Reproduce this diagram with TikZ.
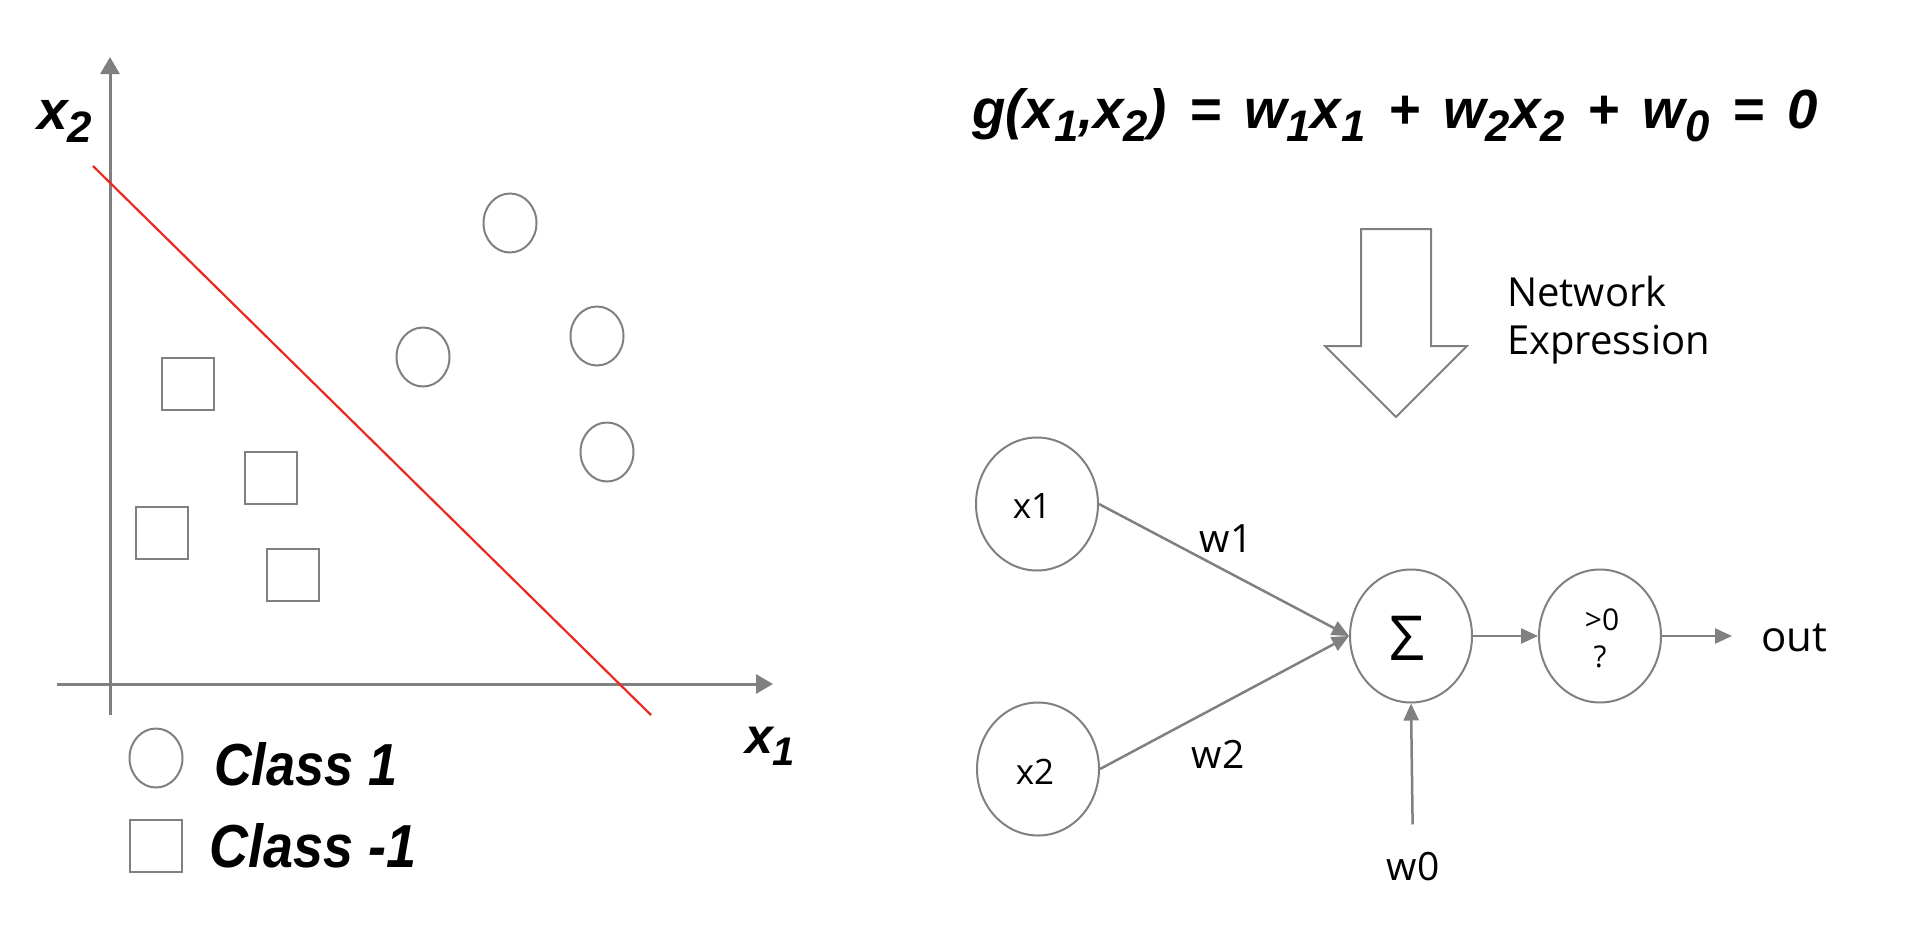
\documentclass[tikz,border=0pt]{standalone}
\usepackage{fontspec}
\setmainfont{Open Sans}
\newfontfamily\eqf{Liberation Sans}
\usetikzlibrary{arrows.meta,shapes.geometric}
\definecolor{lg}{RGB}{128,128,128}
\definecolor{rd}{RGB}{235,40,30}
\newcommand\lsub[1]{\raisebox{-0.25em}{\scalebox{0.8}{#1}}}
\newcommand\bix{\eqf\bfseries\itshape}
\newcommand\gap{\hspace{0.42em}}
\tikzset{
  axisline/.style={draw=lg,line width=3pt,-{Triangle[length=17pt,width=19pt]}},
  dotc/.style={ellipse,draw=lg,line width=2pt,minimum width=53pt,minimum height=59pt,inner sep=0pt},
  dots/.style={rectangle,draw=lg,line width=2pt,minimum size=52pt,inner sep=0pt},
  neuron/.style={ellipse,draw=lg,line width=2pt,minimum width=122pt,minimum height=133pt,inner sep=0pt},
  conn/.style={draw=lg,line width=2.5pt,-{Triangle[length=17pt,width=15pt]}},
  lbl/.style={inner sep=0pt,font=\fontsize{39}{40}\selectfont},
  boldlbl/.style={inner sep=0pt,anchor=base west},
}
\begin{document}
\begin{tikzpicture}[x=1pt,y=-1pt]
\path[use as bounding box] (0,0) rectangle (1918,924);
% ---- left panel ----
\draw[axisline] (110,715) -- (110,57);
\draw[axisline] (57,684) -- (773,684);
\draw[rd,line width=2.2pt] (93,166) -- (651,715);
\node[dotc] (c1) at (510,223) {};
\node[dotc] (c2) at (423,357) {};
\node[dotc] (c3) at (597,336) {};
\node[dotc] (c4) at (607,452) {};
\node[dots] (s1) at (188,384) {};
\node[dots] (s2) at (271,478) {};
\node[dots] (s3) at (162,533) {};
\node[dots] (s4) at (293,575) {};
\node[dotc] (lc) at (156,758) {};
\node[dots] (ls) at (156,846) {};
\node[boldlbl] (lx2) at (37,129) {\resizebox{55pt}{!}{\bix x\lsub{2}}};
\node[boldlbl] (lx1) at (745,753) {\resizebox{50pt}{!}{\bix x\lsub{1}}};
\node[boldlbl] (cl1) at (214,785) {\resizebox{183pt}{43pt}{\bix Class 1}};
\node[boldlbl] (cl2) at (209,867) {\resizebox{207pt}{44pt}{\bix Class -1}};
% ---- equation ----
\node[boldlbl] (eq) at (972,128) {\resizebox{845pt}{40pt}{\bix g(x\lsub{1},x\lsub{2})\gap=\gap w\lsub{1}x\lsub{1}\gap+\gap w\lsub{2}x\lsub{2}\gap+\gap w\lsub{0}\gap=\gap 0}};
% ---- block arrow ----
\draw[lg,line width=2pt,fill=white] (1361,229) -- (1431,229) -- (1431,346) -- (1467,346) -- (1396,417) -- (1325,346) -- (1361,346) -- cycle;
\node[anchor=west,align=left,inner sep=0pt,font=\fontsize{40}{48}\selectfont] (netexp) at (1507,320) {Network\\Expression};
% ---- network ----
\node[neuron] (x1) at (1037,504) {};
\node[inner sep=0pt,font=\fontsize{35}{35}\selectfont] (x1t) at (1032,506) {x1};
\node[neuron] (x2) at (1038,769) {};
\node[inner sep=0pt,font=\fontsize{35}{35}\selectfont] (x2t) at (1035,772) {x2};
\node[neuron] (sum) at (1411,636) {};
\node[inner sep=0pt,font=\fontsize{62}{62}\selectfont] (sumt) at (1407,638) {Σ};
\node[neuron] (thr) at (1600,636) {};
\node[inner sep=0pt,font=\fontsize{30}{30}\selectfont] (thr1) at (1602,620) {>0};
\node[inner sep=0pt,font=\fontsize{30}{30}\selectfont] (thr2) at (1600,657) {?};
\node[lbl,anchor=west,font=\fontsize{42}{42}\selectfont] (out) at (1761,638) {out};
\node[lbl] (w1) at (1226,539) {w1};
\node[lbl] (w2) at (1218,754) {w2};
\node[lbl] (w0) at (1413,867) {w0};
\draw[conn] (x1.east) -- (sum.west);
\draw[conn] (x2.east) -- (sum.west);
\draw[conn] (sum.east) -- (thr.west);
\draw[conn,shorten >=29pt] (thr.east) -- (thr.east -| out.west);
\draw[conn,shorten <=28pt] (w0.north) -- (sum.south);
\end{tikzpicture}
\end{document}
